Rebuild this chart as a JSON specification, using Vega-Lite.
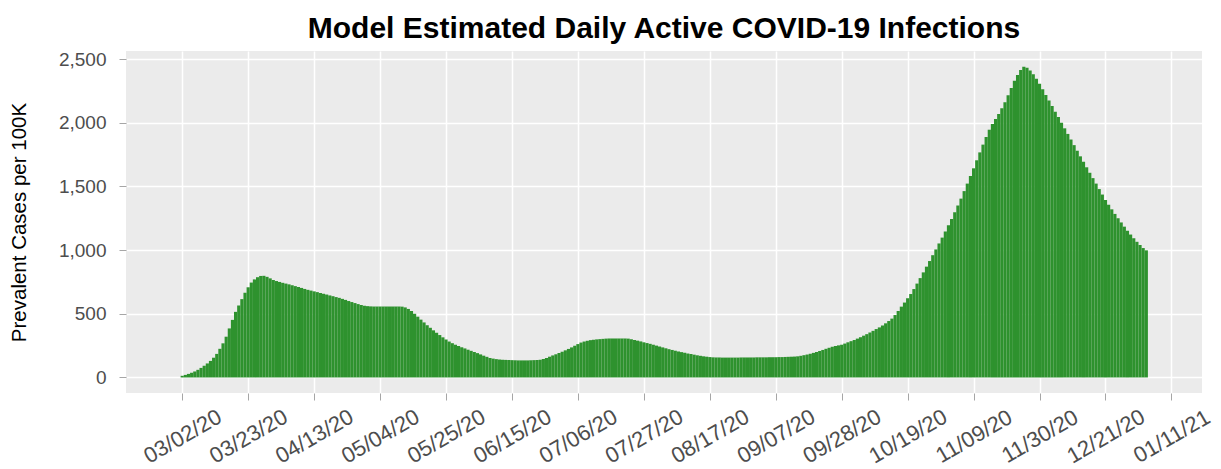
{
 "$schema": "https://vega.github.io/schema/vega-lite/v6.json",
 "width": 1076,
 "height": 342,
 "autosize": {"type": "none"},
 "padding": {"left": 126, "top": 51, "right": 19, "bottom": 76},
 "background": "#ffffff",
 "title": {"text": "Model Estimated Daily Active COVID-19 Infections", "font": "Liberation Sans", "fontSize": 30, "fontWeight": "bold", "color": "#000000", "anchor": "middle", "frame": "group", "baseline": "alphabetic", "offset": 15, "dy": 33},
 "data": {"values": [
{"date":"2020-03-02","value":13},{"date":"2020-03-03","value":20},{"date":"2020-03-04","value":28},{"date":"2020-03-05","value":37},{"date":"2020-03-06","value":47},{"date":"2020-03-07","value":60},{"date":"2020-03-08","value":75},{"date":"2020-03-09","value":92},{"date":"2020-03-10","value":110},{"date":"2020-03-11","value":130},{"date":"2020-03-12","value":155},{"date":"2020-03-13","value":185},{"date":"2020-03-14","value":225},{"date":"2020-03-15","value":268},{"date":"2020-03-16","value":320},{"date":"2020-03-17","value":385},{"date":"2020-03-18","value":452},{"date":"2020-03-19","value":515},{"date":"2020-03-20","value":565},{"date":"2020-03-21","value":615},{"date":"2020-03-22","value":665},{"date":"2020-03-23","value":708},{"date":"2020-03-24","value":745},{"date":"2020-03-25","value":770},{"date":"2020-03-26","value":787},{"date":"2020-03-27","value":797},{"date":"2020-03-28","value":798},{"date":"2020-03-29","value":790},{"date":"2020-03-30","value":778},{"date":"2020-03-31","value":765},
{"date":"2020-04-01","value":757},{"date":"2020-04-02","value":750},{"date":"2020-04-03","value":743},{"date":"2020-04-04","value":737},{"date":"2020-04-05","value":731},{"date":"2020-04-06","value":724},{"date":"2020-04-07","value":717},{"date":"2020-04-08","value":710},{"date":"2020-04-09","value":703},{"date":"2020-04-10","value":695},{"date":"2020-04-11","value":688},{"date":"2020-04-12","value":682},{"date":"2020-04-13","value":676},{"date":"2020-04-14","value":670},{"date":"2020-04-15","value":663},{"date":"2020-04-16","value":657},{"date":"2020-04-17","value":651},{"date":"2020-04-18","value":644},{"date":"2020-04-19","value":638},{"date":"2020-04-20","value":631},{"date":"2020-04-21","value":625},{"date":"2020-04-22","value":617},{"date":"2020-04-23","value":609},{"date":"2020-04-24","value":600},{"date":"2020-04-25","value":592},{"date":"2020-04-26","value":584},{"date":"2020-04-27","value":576},{"date":"2020-04-28","value":569},{"date":"2020-04-29","value":563},{"date":"2020-04-30","value":560},
{"date":"2020-05-01","value":558},{"date":"2020-05-02","value":557},{"date":"2020-05-03","value":557},{"date":"2020-05-04","value":557},{"date":"2020-05-05","value":557},{"date":"2020-05-06","value":557},{"date":"2020-05-07","value":557},{"date":"2020-05-08","value":557},{"date":"2020-05-09","value":557},{"date":"2020-05-10","value":557},{"date":"2020-05-11","value":556},{"date":"2020-05-12","value":550},{"date":"2020-05-13","value":538},{"date":"2020-05-14","value":522},{"date":"2020-05-15","value":500},{"date":"2020-05-16","value":477},{"date":"2020-05-17","value":454},{"date":"2020-05-18","value":432},{"date":"2020-05-19","value":410},{"date":"2020-05-20","value":390},{"date":"2020-05-21","value":370},{"date":"2020-05-22","value":351},{"date":"2020-05-23","value":333},{"date":"2020-05-24","value":315},{"date":"2020-05-25","value":298},{"date":"2020-05-26","value":282},{"date":"2020-05-27","value":269},{"date":"2020-05-28","value":257},{"date":"2020-05-29","value":247},{"date":"2020-05-30","value":237},{"date":"2020-05-31","value":228},
{"date":"2020-06-01","value":218},{"date":"2020-06-02","value":209},{"date":"2020-06-03","value":200},{"date":"2020-06-04","value":191},{"date":"2020-06-05","value":181},{"date":"2020-06-06","value":171},{"date":"2020-06-07","value":162},{"date":"2020-06-08","value":153},{"date":"2020-06-09","value":148},{"date":"2020-06-10","value":144},{"date":"2020-06-11","value":141},{"date":"2020-06-12","value":139},{"date":"2020-06-13","value":138},{"date":"2020-06-14","value":137},{"date":"2020-06-15","value":136},{"date":"2020-06-16","value":135},{"date":"2020-06-17","value":134},{"date":"2020-06-18","value":134},{"date":"2020-06-19","value":134},{"date":"2020-06-20","value":134},{"date":"2020-06-21","value":135},{"date":"2020-06-22","value":136},{"date":"2020-06-23","value":137},{"date":"2020-06-24","value":139},{"date":"2020-06-25","value":145},{"date":"2020-06-26","value":153},{"date":"2020-06-27","value":163},{"date":"2020-06-28","value":173},{"date":"2020-06-29","value":182},{"date":"2020-06-30","value":192},
{"date":"2020-07-01","value":202},{"date":"2020-07-02","value":213},{"date":"2020-07-03","value":224},{"date":"2020-07-04","value":236},{"date":"2020-07-05","value":249},{"date":"2020-07-06","value":262},{"date":"2020-07-07","value":274},{"date":"2020-07-08","value":282},{"date":"2020-07-09","value":288},{"date":"2020-07-10","value":293},{"date":"2020-07-11","value":296},{"date":"2020-07-12","value":299},{"date":"2020-07-13","value":301},{"date":"2020-07-14","value":303},{"date":"2020-07-15","value":305},{"date":"2020-07-16","value":306},{"date":"2020-07-17","value":306},{"date":"2020-07-18","value":306},{"date":"2020-07-19","value":306},{"date":"2020-07-20","value":306},{"date":"2020-07-21","value":306},{"date":"2020-07-22","value":305},{"date":"2020-07-23","value":300},{"date":"2020-07-24","value":294},{"date":"2020-07-25","value":289},{"date":"2020-07-26","value":283},{"date":"2020-07-27","value":276},{"date":"2020-07-28","value":270},{"date":"2020-07-29","value":264},{"date":"2020-07-30","value":257},{"date":"2020-07-31","value":250},
{"date":"2020-08-01","value":243},{"date":"2020-08-02","value":236},{"date":"2020-08-03","value":229},{"date":"2020-08-04","value":222},{"date":"2020-08-05","value":216},{"date":"2020-08-06","value":210},{"date":"2020-08-07","value":204},{"date":"2020-08-08","value":199},{"date":"2020-08-09","value":194},{"date":"2020-08-10","value":188},{"date":"2020-08-11","value":184},{"date":"2020-08-12","value":179},{"date":"2020-08-13","value":174},{"date":"2020-08-14","value":170},{"date":"2020-08-15","value":166},{"date":"2020-08-16","value":163},{"date":"2020-08-17","value":160},{"date":"2020-08-18","value":158},{"date":"2020-08-19","value":157},{"date":"2020-08-20","value":157},{"date":"2020-08-21","value":156},{"date":"2020-08-22","value":156},{"date":"2020-08-23","value":156},{"date":"2020-08-24","value":156},{"date":"2020-08-25","value":156},{"date":"2020-08-26","value":156},{"date":"2020-08-27","value":157},{"date":"2020-08-28","value":157},{"date":"2020-08-29","value":157},{"date":"2020-08-30","value":157},{"date":"2020-08-31","value":157},
{"date":"2020-09-01","value":158},{"date":"2020-09-02","value":158},{"date":"2020-09-03","value":158},{"date":"2020-09-04","value":158},{"date":"2020-09-05","value":159},{"date":"2020-09-06","value":159},{"date":"2020-09-07","value":159},{"date":"2020-09-08","value":160},{"date":"2020-09-09","value":160},{"date":"2020-09-10","value":161},{"date":"2020-09-11","value":162},{"date":"2020-09-12","value":163},{"date":"2020-09-13","value":164},{"date":"2020-09-14","value":166},{"date":"2020-09-15","value":170},{"date":"2020-09-16","value":175},{"date":"2020-09-17","value":180},{"date":"2020-09-18","value":186},{"date":"2020-09-19","value":193},{"date":"2020-09-20","value":200},{"date":"2020-09-21","value":208},{"date":"2020-09-22","value":216},{"date":"2020-09-23","value":225},{"date":"2020-09-24","value":233},{"date":"2020-09-25","value":241},{"date":"2020-09-26","value":247},{"date":"2020-09-27","value":252},{"date":"2020-09-28","value":257},{"date":"2020-09-29","value":266},{"date":"2020-09-30","value":276},
{"date":"2020-10-01","value":285},{"date":"2020-10-02","value":294},{"date":"2020-10-03","value":305},{"date":"2020-10-04","value":316},{"date":"2020-10-05","value":328},{"date":"2020-10-06","value":340},{"date":"2020-10-07","value":353},{"date":"2020-10-08","value":366},{"date":"2020-10-09","value":380},{"date":"2020-10-10","value":393},{"date":"2020-10-11","value":408},{"date":"2020-10-12","value":425},{"date":"2020-10-13","value":443},{"date":"2020-10-14","value":462},{"date":"2020-10-15","value":490},{"date":"2020-10-16","value":522},{"date":"2020-10-17","value":556},{"date":"2020-10-18","value":588},{"date":"2020-10-19","value":622},{"date":"2020-10-20","value":655},{"date":"2020-10-21","value":694},{"date":"2020-10-22","value":737},{"date":"2020-10-23","value":780},{"date":"2020-10-24","value":825},{"date":"2020-10-25","value":870},{"date":"2020-10-26","value":914},{"date":"2020-10-27","value":960},{"date":"2020-10-28","value":1005},{"date":"2020-10-29","value":1052},{"date":"2020-10-30","value":1098},{"date":"2020-10-31","value":1146},
{"date":"2020-11-01","value":1195},{"date":"2020-11-02","value":1244},{"date":"2020-11-03","value":1297},{"date":"2020-11-04","value":1350},{"date":"2020-11-05","value":1404},{"date":"2020-11-06","value":1463},{"date":"2020-11-07","value":1522},{"date":"2020-11-08","value":1581},{"date":"2020-11-09","value":1642},{"date":"2020-11-10","value":1705},{"date":"2020-11-11","value":1767},{"date":"2020-11-12","value":1828},{"date":"2020-11-13","value":1888},{"date":"2020-11-14","value":1945},{"date":"2020-11-15","value":1990},{"date":"2020-11-16","value":2030},{"date":"2020-11-17","value":2068},{"date":"2020-11-18","value":2113},{"date":"2020-11-19","value":2160},{"date":"2020-11-20","value":2216},{"date":"2020-11-21","value":2273},{"date":"2020-11-22","value":2330},{"date":"2020-11-23","value":2375},{"date":"2020-11-24","value":2414},{"date":"2020-11-25","value":2440},{"date":"2020-11-26","value":2432},{"date":"2020-11-27","value":2410},{"date":"2020-11-28","value":2380},{"date":"2020-11-29","value":2345},{"date":"2020-11-30","value":2305},
{"date":"2020-12-01","value":2262},{"date":"2020-12-02","value":2218},{"date":"2020-12-03","value":2175},{"date":"2020-12-04","value":2131},{"date":"2020-12-05","value":2087},{"date":"2020-12-06","value":2044},{"date":"2020-12-07","value":2000},{"date":"2020-12-08","value":1956},{"date":"2020-12-09","value":1912},{"date":"2020-12-10","value":1868},{"date":"2020-12-11","value":1824},{"date":"2020-12-12","value":1780},{"date":"2020-12-13","value":1736},{"date":"2020-12-14","value":1693},{"date":"2020-12-15","value":1650},{"date":"2020-12-16","value":1607},{"date":"2020-12-17","value":1565},{"date":"2020-12-18","value":1522},{"date":"2020-12-19","value":1479},{"date":"2020-12-20","value":1436},{"date":"2020-12-21","value":1393},{"date":"2020-12-22","value":1356},{"date":"2020-12-23","value":1320},{"date":"2020-12-24","value":1284},{"date":"2020-12-25","value":1250},{"date":"2020-12-26","value":1217},{"date":"2020-12-27","value":1184},{"date":"2020-12-28","value":1152},{"date":"2020-12-29","value":1122},{"date":"2020-12-30","value":1093},{"date":"2020-12-31","value":1065},
{"date":"2021-01-01","value":1040},{"date":"2021-01-02","value":1016},{"date":"2021-01-03","value":998}
 ]},
 "mark": {"type": "bar", "width": 3.17, "color": "#2e922e"},
 "encoding": {
  "x": {
   "field": "date", "type": "temporal",
   "scale": {"type": "utc", "domain": [{"year": 2020, "month": 2, "date": 14, "hours": 16, "minutes": 34, "utc": true}, {"year": 2021, "month": 1, "date": 19, "hours": 3, "minutes": 22, "utc": true}]},
   "axis": {
    "title": null,
    "values": [
     {"year": 2020, "month": 3, "date": 2, "utc": true},
     {"year": 2020, "month": 3, "date": 23, "utc": true},
     {"year": 2020, "month": 4, "date": 13, "utc": true},
     {"year": 2020, "month": 5, "date": 4, "utc": true},
     {"year": 2020, "month": 5, "date": 25, "utc": true},
     {"year": 2020, "month": 6, "date": 15, "utc": true},
     {"year": 2020, "month": 7, "date": 6, "utc": true},
     {"year": 2020, "month": 7, "date": 27, "utc": true},
     {"year": 2020, "month": 8, "date": 17, "utc": true},
     {"year": 2020, "month": 9, "date": 7, "utc": true},
     {"year": 2020, "month": 9, "date": 28, "utc": true},
     {"year": 2020, "month": 10, "date": 19, "utc": true},
     {"year": 2020, "month": 11, "date": 9, "utc": true},
     {"year": 2020, "month": 11, "date": 30, "utc": true},
     {"year": 2020, "month": 12, "date": 21, "utc": true},
     {"year": 2021, "month": 1, "date": 11, "utc": true}
    ],
    "labelExpr": "utcFormat(datum.value, '%m/%d/%y')",
    "labelAngle": -30,
    "labelAlign": "center",
    "labelBaseline": "middle",
    "labelPadding": 36,
    "labelFontSize": 22,
    "labelColor": "#4d4d4d",
    "labelFlush": false,
    "labelOverlap": false
   }
  },
  "y": {
   "field": "value", "type": "quantitative",
   "scale": {"domain": [-122, 2563], "nice": false, "zero": false},
   "axis": {
    "title": "Prevalent Cases per 100K",
    "values": [0, 500, 1000, 1500, 2000, 2500],
    "labelExpr": "format(datum.value, ',')",
    "labelFontSize": 19,
    "labelColor": "#4d4d4d",
    "labelPadding": 13,
    "labelOverlap": false,
    "titleFontSize": 20.5,
    "titleFontWeight": "normal",
    "titleColor": "#000000",
    "titleX": -107,
    "titleY": 171,
    "titleAngle": -90,
    "titleAlign": "center",
    "titleBaseline": "middle"
   }
  }
 },
 "config": {
  "view": {"fill": "#ebebeb", "stroke": null},
  "axis": {"domain": false, "grid": true, "gridColor": "#ffffff", "gridWidth": 1.5, "tickColor": "#a6a6a6", "tickSize": 7, "tickWidth": 1, "labelFont": "Liberation Sans", "titleFont": "Liberation Sans"}
 }
}
